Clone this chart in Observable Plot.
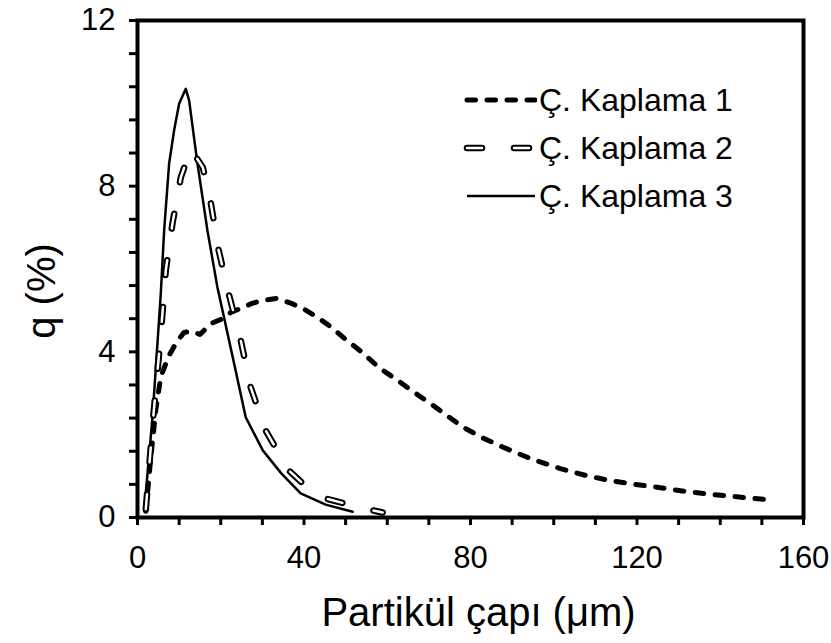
<!DOCTYPE html>
<html><head><meta charset="utf-8">
<script src="https://cdn.jsdelivr.net/npm/d3@7"></script>
<script src="https://cdn.jsdelivr.net/npm/@observablehq/plot@0.6"></script>
<style>
body{margin:0;background:#fff;font-family:"Liberation Sans",Arial,sans-serif;}
#wrap{position:relative;width:831px;height:643px;}
#legend{position:absolute;left:463px;top:76px;}
.row{display:flex;align-items:center;height:48px;font-size:32px;color:#000;}
.row svg{display:block;margin-right:2px;}
</style></head><body><div id="wrap"></div>
<script>
const seriesNames = ["Ç. Kaplama 1", "Ç. Kaplama 2", "Ç. Kaplama 3"];

const x1 = [2.0, 3.2, 4.4, 5.6, 7.5, 9.5, 11.2, 13, 15, 17.6, 20.4, 22.4, 25, 27.5, 30, 33.5, 37, 40, 43, 46.5, 50, 54.3, 58, 62.5, 66.5, 70.4, 74.5, 78.4, 83, 88, 94.5, 101.6, 107.5, 113.6, 119.5, 125.6, 131.5, 137.6, 144, 150.4];
const q1 = [0.15, 1.45, 2.6, 3.4, 3.9, 4.25, 4.47, 4.5, 4.42, 4.68, 4.8, 4.95, 5.06, 5.17, 5.24, 5.29, 5.17, 5.03, 4.85, 4.6, 4.3, 3.96, 3.62, 3.31, 3.02, 2.75, 2.45, 2.17, 1.92, 1.69, 1.42, 1.18, 1.02, 0.89, 0.8, 0.72, 0.63, 0.56, 0.5, 0.44];

const x2 = [2.0, 3.7, 5.1, 6.0, 6.8, 8.4, 10.4, 12.8, 15.7, 17.6, 19.5, 21.9, 24.8, 27.2, 30.8, 36.3, 40.5, 45.2, 54.3, 58.9];
const q2 = [0.2, 2.34, 3.86, 4.93, 5.97, 7.1, 8.21, 8.9, 8.45, 7.6, 6.45, 5.41, 4.28, 3.14, 2.1, 1.14, 0.75, 0.46, 0.22, 0.12];

const x3 = [1.6, 3.6, 5.6, 6.4, 7.6, 8.8, 10.0, 11.6, 12.4, 14.4, 16.8, 19.2, 22.9, 26.0, 30.1, 34.6, 39.2, 45.2, 51.7];
const q3 = [0.15, 2.42, 5.41, 6.93, 8.55, 9.35, 9.99, 10.35, 10.07, 8.55, 6.93, 5.56, 3.86, 2.42, 1.62, 1.06, 0.58, 0.31, 0.14];

const xTicks = [0, 10, 20, 30, 40, 50, 60, 70, 80, 90, 100, 110, 120, 130, 140, 150, 160];
const xLabels = [0, 40, 80, 120, 160];
const yTicks = [0, 0.8, 1.6, 2.4, 3.2, 4, 4.8, 5.6, 6.4, 7.2, 8, 8.8, 9.6, 10.4, 11.2, 12];
const yLabels = [0, 4, 8, 12];
const xTitle = "Partikül çapı (μm)";
const yTitle = "q (%)";

const rows = (xs, qs) => xs.map((x, i) => ({x, q: qs[i]}));
const d1 = rows(x1, q1), d2 = rows(x2, q2), d3 = rows(x3, q3);

const dash1 = "8.5,11.5", dash2 = "15,32";

const plot = Plot.plot({
  width: 831, height: 643,
  marginLeft: 137, marginRight: 28, marginTop: 20, marginBottom: 126,
  style: {fontFamily: "'Liberation Sans', Arial, sans-serif", fontSize: "31px", color: "black", background: "white"},
  x: {domain: [0, 160]},
  y: {domain: [0, 12]},
  marks: [
    Plot.axisX({ticks: xTicks, tickFormat: d => xLabels.includes(d) ? String(d) : "", tickSize: 8, tickPadding: 20, strokeWidth: 3, label: null, fontSize: 31}),
    Plot.axisY({ticks: yTicks, tickFormat: d => yLabels.includes(d) ? String(d) : "", tickSize: 8, tickPadding: 14, strokeWidth: 3, label: null, fontSize: 31}),
    Plot.line(d3, {x: "x", y: "q", stroke: "black", strokeWidth: 2.5}),
    Plot.line(d1, {x: "x", y: "q", stroke: "black", strokeWidth: 5, strokeDasharray: dash1, strokeLinecap: "round"}),
    Plot.line(d2, {x: "x", y: "q", stroke: "black", strokeWidth: 6.5, strokeDasharray: dash2, strokeLinecap: "round"}),
    Plot.line(d2, {x: "x", y: "q", stroke: "white", strokeWidth: 2.5, strokeDasharray: dash2, strokeLinecap: "round"}),
    Plot.frame({stroke: "black", strokeWidth: 4}),
    Plot.text([xTitle], {frameAnchor: "bottom", textAnchor: "middle", dx: 8, dy: 108, fontSize: 40}),
    Plot.text([yTitle], {frameAnchor: "left", textAnchor: "middle", lineAnchor: "middle", dx: -95, dy: 22, rotate: -90, fontSize: 40})
  ]
});

const wrap = document.getElementById("wrap");
wrap.appendChild(plot);

const legend = document.createElement("div");
legend.id = "legend";
const styles = [
  [{stroke: "black", w: 5, dash: dash1}],
  [{stroke: "black", w: 6.5, dash: dash2}, {stroke: "white", w: 2.5, dash: dash2}],
  [{stroke: "black", w: 2.5, dash: null}]
];
seriesNames.forEach((name, i) => {
  const row = document.createElement("div");
  row.className = "row";
  const lines = styles[i].map(s =>
    `<line x1="4" x2="72" y1="10" y2="10" stroke="${s.stroke}" stroke-width="${s.w}"${s.dash ? ` stroke-dasharray="${s.dash}" stroke-linecap="round"` : ""}/>`).join("");
  row.innerHTML = `<svg width="74" height="20">${lines}</svg><span>${name}</span>`;
  legend.appendChild(row);
});
wrap.appendChild(legend);
</script>
</body></html>
